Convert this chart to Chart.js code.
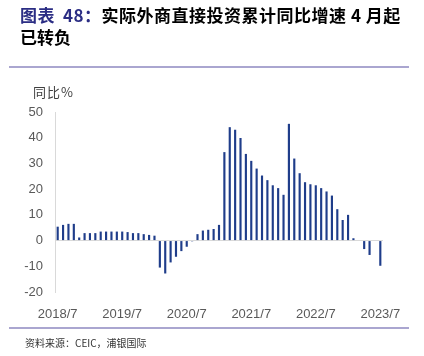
<!DOCTYPE html>
<html>
<head>
<meta charset="utf-8">
<script src="https://cdn.jsdelivr.net/npm/chart.js@4.4.1/dist/chart.umd.min.js"></script>
<style>
  html, body { margin:0; padding:0; background:#ffffff; width:424px; height:356px; overflow:hidden; }
  #wrap { position:absolute; left:0; top:0; width:424px; height:356px; }
  canvas { position:absolute; left:0; top:0; }
  .t { position:absolute; white-space:nowrap; font-family:"Noto Sans CJK SC","Noto Sans",sans-serif; }
  #title1 { left:20px; top:4px; font-size:17px; line-height:22px; font-weight:bold; color:#000; letter-spacing:0.5px; }
  #title2 { left:20px; top:26px; font-size:17px; line-height:22px; font-weight:bold; color:#000; }
  #title1 .num { color:#2b2d84; }
  #title1 .sp { display:inline-block; width:8px; }
  .rule { position:absolute; left:9px; width:400px; height:2px; background:#aaa6d0; }
  #unit { left:33px; top:83px; font-size:13px; line-height:17px; color:#404040; letter-spacing:1px; }
  #src { left:25px; top:336px; font-size:10px; line-height:13px; color:#333; }
</style>
</head>
<body>
<div id="wrap">
  <canvas id="c" width="424" height="356"></canvas>
  <div class="t" id="title1"><span class="num">图表<span class="sp"></span>48：</span>实际外商直接投资累计同比增速 4 月起</div>
  <div class="t" id="title2">已转负</div>
  <div class="rule" style="top:66px"></div>
  <div class="t" id="unit">同比%</div>
  <div class="rule" style="top:327px"></div>
  <div class="t" id="src">资料来源：CEIC，浦银国际</div>
</div>
<script>
const categories = [
  '2018/7','2018/8','2018/9','2018/10','2018/11','2018/12',
  '2019/1','2019/2','2019/3','2019/4','2019/5','2019/6','2019/7','2019/8','2019/9','2019/10','2019/11','2019/12',
  '2020/1','2020/2','2020/3','2020/4','2020/5','2020/6','2020/7','2020/8','2020/9','2020/10','2020/11','2020/12',
  '2021/1','2021/2','2021/3','2021/4','2021/5','2021/6','2021/7','2021/8','2021/9','2021/10','2021/11','2021/12',
  '2022/1','2022/2','2022/3','2022/4','2022/5','2022/6','2022/7','2022/8','2022/9','2022/10','2022/11','2022/12',
  '2023/1','2023/2','2023/3','2023/4','2023/5','2023/6','2023/7'
];
const fdiYoY = [
  5.4, 6.1, 6.5, 6.5, 1.2, 2.9,
  2.9, 2.9, 3.5, 3.5, 3.5, 3.5, 3.5, 3.3, 2.9, 2.9, 2.5, 2.2,
  1.9, -10.5, -12.8, -8.5, -6.3, -4.1, -2.4, -0.3, 2.5, 3.9, 4.2, 4.5,
  6.1, 34.4, 44.1, 43.1, 39.9, 33.7, 31.0, 28.0, 25.3, 23.5, 21.5, 20.4,
  17.8, 45.4, 31.9, 26.2, 22.7, 21.9, 21.5, 20.4, 19.1, 17.5, 12.2, 8.0,
  10.0, 0.9, null, -3.3, -5.6, null, -9.8
];
const xTickLabels = ['2018/7','2019/7','2020/7','2021/7','2022/7','2023/7'];
const yMin = -20, yMax = 50, yStep = 10;

const tickFont = { family: '"Liberation Sans", Arial, sans-serif', size: 13 };

new Chart(document.getElementById('c'), {
  type: 'bar',
  data: {
    labels: categories,
    datasets: [{
      label: '同比',
      data: fdiYoY,
      backgroundColor: '#1f3d8a',
      borderWidth: 0,
      barPercentage: 0.4,
      categoryPercentage: 1.0
    }]
  },
  options: {
    responsive: false,
    animation: false,
    devicePixelRatio: 1,
    layout: { padding: { left: 0, right: 41, top: 112, bottom: 34 } },
    plugins: { legend: { display: false }, tooltip: { enabled: false }, title: { display: false } },
    scales: {
      x: {
        type: 'category',
        offset: true,
        grid: { display: false, drawTicks: false },
        border: { display: false },
        ticks: {
          autoSkip: false, maxRotation: 0, minRotation: 0, padding: 15,
          color: '#595959', font: tickFont,
          callback: function(v, i) { const l = categories[i]; return xTickLabels.includes(l) ? l : ''; }
        },
        afterFit: function(s) { s.height = 30; }
      },
      y: {
        min: yMin, max: yMax,
        ticks: { stepSize: yStep, padding: 12, color: '#595959', font: tickFont },
        grid: {
          drawTicks: false,
          color: function(ctx) { return (ctx.tick && ctx.tick.value === 0) ? '#d9d9d9' : 'rgba(0,0,0,0)'; },
          lineWidth: 1
        },
        border: { display: true, color: '#d9d9d9', width: 1 },
        afterFit: function(s) { s.width = 55; }
      }
    }
  }
});
</script>
</body>
</html>
